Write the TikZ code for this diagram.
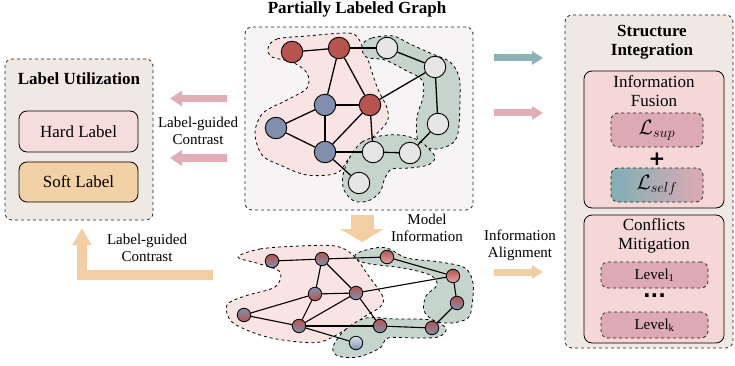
\documentclass[tikz,border=0pt]{standalone}
\usepackage{fontspec}
\setmainfont{Liberation Serif}
\newfontfamily\plusfont{DejaVu Sans}
\usetikzlibrary{arrows.meta,shapes.geometric}
\definecolor{cR}{HTML}{B85450}
\definecolor{cB}{HTML}{7F8FAD}
\definecolor{cW}{HTML}{E6E6E6}
\definecolor{pinkblob}{HTML}{F8E4E2}
\definecolor{greenblob}{HTML}{C6D4CE}
\definecolor{graphbg}{HTML}{F6F4F5}
\definecolor{beigebg}{HTML}{F0E8E3}
\definecolor{hardc}{HTML}{F6DCDA}
\definecolor{softc}{HTML}{F2D1A6}
\definecolor{fusionc}{HTML}{F5D8D6}
\definecolor{lossc}{HTML}{DDAAB3}
\definecolor{tealc}{HTML}{7FAFB5}
\definecolor{parrow}{HTML}{E0AEB4}
\definecolor{tarrow}{HTML}{8DB3B6}
\definecolor{oarrow}{HTML}{F4CEA3}
\definecolor{lightR}{HTML}{E3A6A6}
\definecolor{lightB}{HTML}{DCE2EC}
\pgfdeclarelayer{bg}
\pgfdeclarelayer{edges}
\pgfsetlayers{bg,edges,main}
\begin{document}
\begin{tikzpicture}[x=1pt,y=-1pt]
\useasboundingbox (0,0) rectangle (735,366);
\tikzset{
 big/.style={font=\fontsize{17}{19}\selectfont},
 bigb/.style={font=\fontsize{17}{19}\selectfont\bfseries},
 mid/.style={font=\fontsize{15}{17}\selectfont},
 dbox/.style={draw=black!85, dashed, line width=0.8pt, rounded corners=7pt, inner sep=0pt},
 sbox/.style={draw=black, line width=0.8pt, rounded corners=8pt, inner sep=0pt},
 blob/.style={draw=black, dashed, line width=0.8pt},
 tn/.style={circle, draw=black, line width=0.9pt, minimum size=21.5pt, inner sep=0pt},
 bn/.style={circle, draw=black, line width=0.8pt, minimum size=13.5pt, inner sep=0pt},
 ted/.style={line width=1.3pt},
 bed/.style={line width=1.1pt},
 rb/.style={bn, top color=cR, bottom color=cB},
 br/.style={bn, top color=cB, bottom color=cR},
 rl/.style={bn, top color=cR, bottom color=lightR},
 bl/.style={bn, top color=lightB, bottom color=cB},
 parr/.style={draw=parrow, line width=7.5pt, -{Triangle[length=12pt,width=15pt]}},
 tarr/.style={draw=tarrow, line width=7pt, -{Triangle[length=11pt,width=13pt]}},
 oarr/.style={draw=oarrow, line width=7pt, -{Triangle[length=11pt,width=13pt]}},
 mathl/.style={font=\fontsize{20}{22}\selectfont},
}

% ---------------- Label Utilization ----------------
\node[dbox, fill=beigebg, minimum width=148pt, minimum height=161pt] (lu) at (79,139.5) {};
\node[bigb] (lut) at (79,79) {Label Utilization};
\node[sbox, fill=hardc, minimum width=119pt, minimum height=41pt, big] (hard) at (78.5,131.5) {Hard Label};
\node[sbox, fill=softc, minimum width=119pt, minimum height=40pt, big] (soft) at (78.5,182) {Soft Label};

% ---------------- Partially labeled graph ----------------
\node[bigb] (plt) at (357,9) {Partially Labeled Graph};
\begin{pgfonlayer}{bg}
\node[dbox, fill=graphbg, minimum width=228pt, minimum height=183pt] (gbox) at (359,118.5) {};
\draw[blob, fill=pinkblob] plot[smooth cycle, tension=0.55] coordinates {(268,48) (277,39) (307,36) (347,33) (358,38) (367,57) (377,87) (387,108) (387,122) (373,137) (350,157) (337,173) (307,175) (280,165) (262,155) (255,133) (263,113) (287,100) (307,88) (307,73) (292,62) (272,57)};
\draw[blob, fill=greenblob] plot[smooth cycle, tension=0.55] coordinates {(362,45) (372,38) (393,36) (410,44) (430,53) (450,62) (459,77) (460,100) (458,133) (450,145) (432,149) (418,140) (417,117) (423,97) (422,80) (405,70) (385,60) (366,57)};
\draw[blob, fill=greenblob] plot[smooth cycle, tension=0.55] coordinates {(350,157) (362,142) (380,136) (400,135) (418,140) (430,150) (435,158) (428,165) (410,168) (392,169) (385,178) (380,192) (368,201) (354,201) (344,190) (343,175)};
% bottom blobs
\draw[blob, fill=pinkblob] plot[smooth cycle, tension=0.55] coordinates {(238,257) (260,249) (300,246) (335,246) (353,255) (368,275) (383,297) (380,307) (367,315) (345,330) (320,342) (290,341) (260,335) (232,322) (227,305) (245,296) (275,287) (280,272) (260,264)};
\draw[blob, fill=greenblob] plot[smooth cycle, tension=0.55] coordinates {(355,255) (370,249) (387,248) (407,258) (440,262) (465,268) (473,283) (472,305) (468,318) (452,323) (435,321) (424,311) (426,296) (437,285) (430,275) (403,268) (365,263)};
\draw[blob, fill=greenblob] plot[smooth cycle, tension=0.55] coordinates {(333,347) (345,330) (366,318) (395,319) (432,320) (446,329) (438,337) (415,338) (388,338) (380,348) (358,357) (338,356)};
\end{pgfonlayer}

\node[tn, fill=cR] (R1) at (292,52) {};
\node[tn, fill=cR] (R2) at (339,48) {};
\node[tn, fill=cW] (W1) at (387,48) {};
\node[tn, fill=cW] (W2) at (435,67) {};
\node[tn, fill=cB] (B1) at (325,105) {};
\node[tn, fill=cR] (R3) at (370,105) {};
\node[tn, fill=cB] (B2) at (276,128) {};
\node[tn, fill=cW] (W3) at (438,124) {};
\node[tn, fill=cB] (B3) at (325,152) {};
\node[tn, fill=cW] (W4) at (373,152) {};
\node[tn, fill=cW] (W5) at (410,153) {};
\node[tn, fill=cW] (W6) at (359,183) {};

\node[rb] (a1) at (272,261) {};
\node[rb] (a2) at (322,259) {};
\node[rl] (a3) at (387,257) {};
\node[rl] (a4) at (453,276) {};
\node[br] (a5) at (315,294) {};
\node[rb] (a6) at (356,293) {};
\node[rb] (a7) at (457,303) {};
\node[br] (a8) at (244,315) {};
\node[rb] (a9) at (299,326) {};
\node[rb] (a10) at (380,326) {};
\node[rb] (a11) at (432,328) {};
\node[bl] (a12) at (356,343) {};

\begin{pgfonlayer}{edges}
\foreach \a/\b in {R1/R2,R2/W1,W1/W2,W2/R3,W2/W3,W3/W5,W5/W4,R2/B1,R2/R3,B1/R3,B1/B2,B1/B3,B2/B3,B3/R3,B3/W4,R3/W4,B3/W6}
  \draw[ted] (\a) -- (\b);
\foreach \a/\b in {a1/a2,a2/a3,a3/a4,a4/a6,a4/a7,a7/a11,a11/a10,a2/a5,a2/a6,a5/a6,a5/a8,a5/a9,a8/a9,a9/a6,a9/a10,a6/a10,a9/a12}
  \draw[bed] (\a) -- (\b);
\end{pgfonlayer}

% ---------------- Structure Integration ----------------
\node[dbox, fill=beigebg, minimum width=168pt, minimum height=333pt] (si) at (649,181.5) {};
\node[bigb, align=center] (sit) at (652,42) {Structure\\Integration};
\node[sbox, fill=fusionc, minimum width=140pt, minimum height=137pt] (fus) at (654,139.5) {};
\node[big, align=center] (fust) at (654,91) {Information\\Fusion};
\node[dbox, fill=lossc, minimum width=92pt, minimum height=34pt, mathl] (lsup) at (657,130) {$\mathcal{L}_{sup}$};
\node[font=\fontsize{20}{20}\selectfont\plusfont\bfseries] (plus) at (657,159) {+};
\node[dbox, left color=tealc, right color=lossc, minimum width=92pt, minimum height=34pt, mathl] (lself) at (657,185) {$\mathcal{L}_{self}$};
\node[sbox, fill=fusionc, minimum width=140pt, minimum height=128pt] (con) at (654,279) {};
\node[big, align=center] (cont) at (654,235.5) {Conflicts\\Mitigation};
\node[dbox, fill=lossc, minimum width=107pt, minimum height=26pt, mid] (lv1) at (654.5,275) {Level\textsubscript{1}};
\node[font=\fontsize{20}{20}\selectfont\plusfont\bfseries] (dots) at (654.5,296) {...};
\node[dbox, fill=lossc, minimum width=107pt, minimum height=26pt, mid] (lvk) at (654.5,325) {Level\textsubscript{k}};

% ---------------- Arrows ----------------
\coordinate (p1s) at (227,98.5); \coordinate (p1e) at (170,98.5);
\coordinate (p2s) at (227,158); \coordinate (p2e) at (170,158);
\draw[parr] (p1s) -- (p1e);
\draw[parr] (p2s) -- (p2e);
\node[mid, align=center] (lgc1) at (198,131) {Label-guided\\Contrast};

\coordinate (t1s) at (494,58); \coordinate (t1e) at (543,58);
\coordinate (t2s) at (494,113); \coordinate (t2e) at (543,113);
\coordinate (t3s) at (494,272); \coordinate (t3e) at (543,272);
\draw[tarr] (t1s) -- (t1e);
\draw[tarr, draw=parrow] (t2s) -- (t2e);
\draw[oarr] (t3s) -- (t3e);
\node[mid, align=center] (ia) at (520,245) {Information\\Alignment};

\coordinate (os) at (213,275); \coordinate (oe) at (82,228);
\draw[draw=oarrow, line width=10pt, -{Triangle[length=17pt,width=18pt]}] (os) -| (oe);
\node[mid, align=center] (lgc2) at (147,248) {Label-guided\\Contrast};

\coordinate (ds) at (362,215); \coordinate (de) at (362,242);
\draw[draw=oarrow, line width=23pt, -{Triangle[length=13pt,width=43pt]}] (ds) -- (de);
\node[mid, align=center] (mi) at (427,228) {Model\\Information};
\end{tikzpicture}
\end{document}
